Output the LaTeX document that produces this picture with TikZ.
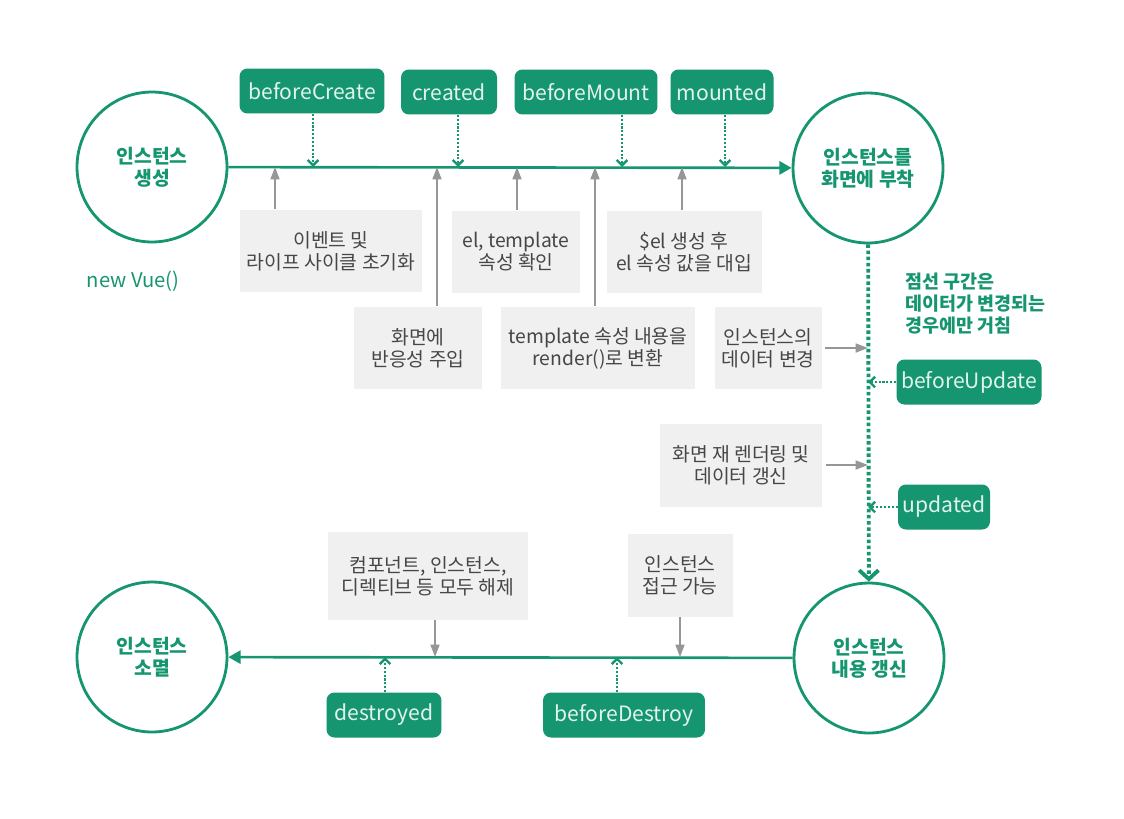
\documentclass[tikz,border=0pt]{standalone}
\usepackage{fontspec}
\setmainfont{Noto Sans CJK KR}
\usetikzlibrary{arrows.meta}

\definecolor{vuegreen}{RGB}{22,150,112}
\definecolor{hooktext}{RGB}{225,244,236}
\definecolor{boxgray}{RGB}{240,240,240}
\definecolor{boxtext}{RGB}{70,70,70}
\definecolor{linegray}{RGB}{150,150,150}

\tikzset{
  stage/.style={circle, draw=vuegreen, line width=1.6pt, fill=white, minimum size=3cm,
    text=vuegreen, align=center, font=\fontsize{11}{12.5}\selectfont\bfseries},
  hook/.style={rounded corners=4.5pt, fill=vuegreen, text=hooktext, minimum height=0.9cm,
    inner xsep=2pt, font=\fontsize{12}{14}\selectfont},
  note/.style={fill=boxgray, text=boxtext, align=center, minimum height=1.66cm,
    inner sep=2pt, font=\fontsize{11}{12.5}\selectfont},
  flow/.style={vuegreen, line width=1.5pt, -{Triangle[length=7pt,width=7.5pt]}},
  hookarrow/.style={vuegreen, line width=1.4pt, dash pattern=on 1.2pt off 1pt,
    -{Straight Barb[length=3pt,width=6pt]}},
  update/.style={vuegreen, line width=2.2pt, dash pattern=on 2pt off 1.5pt,
    -{Straight Barb[length=5pt,width=11pt]}},
  feed/.style={linegray, line width=1.2pt, -{Triangle[length=7pt,width=5pt]}},
}

\begin{document}
\begin{tikzpicture}[x=0.02cm, y=-0.02cm]
  \useasboundingbox[fill=white] (0,0) rectangle (1124,818);

  % Stages
  \node[stage] (born)    at (152,167) {인스턴스\\생성};
  \node[stage] (mount)   at (868,168) {인스턴스를\\화면에 부착};
  \node[stage] (dead)    at (152,657) {인스턴스\\소멸};
  \node[stage] (refresh) at (869,658) {인스턴스\\내용 갱신};

  % Main flow
  \draw[flow] (born) -- (mount);
  \draw[flow] (refresh) -- (dead);
  \draw[update] (mount) -- (refresh);

  \node[text=vuegreen, font=\fontsize{11.5}{13}\selectfont] (newvue) at (133,281) {new Vue()};
  \node[text=vuegreen, anchor=west, align=left, font=\fontsize{10.5}{12.5}\selectfont\bfseries]
    (dashnote) at (899,304) {점선 구간은\\데이터가 변경되는\\경우에만 거침};

  % Hooks
  \node[hook, minimum width=2.9cm]  (beforeCreate)  at (312,91)  {beforeCreate};
  \node[hook, minimum width=1.92cm] (created)       at (449,92)  {created};
  \node[hook, minimum width=2.86cm] (beforeMount)   at (586,92)  {beforeMount};
  \node[hook, minimum width=2.06cm] (mounted)       at (722,92)  {mounted};
  \node[hook, minimum width=2.9cm]  (beforeUpdate)  at (969,382) {beforeUpdate};
  \node[hook, minimum width=1.84cm] (updated)       at (944,507) {updated};
  \node[hook, minimum width=2.3cm]  (destroyed)     at (384,715) {destroyed};
  \node[hook, minimum width=3.24cm] (beforeDestroy) at (624,715) {beforeDestroy};

  \draw[hookarrow] (313,0 |- beforeCreate.south) -- (313,0 |- born.east);
  \draw[hookarrow] (458,0 |- created.south) -- (458,0 |- born.east);
  \draw[hookarrow] (622,0 |- beforeMount.south) -- (622,0 |- born.east);
  \draw[hookarrow] (725,0 |- mounted.south) -- (725,0 |- born.east);
  \draw[hookarrow] (beforeUpdate.west) -- (beforeUpdate.west -| mount.south);
  \draw[hookarrow] (updated.west) -- (updated.west -| mount.south);
  \draw[hookarrow] (385,0 |- destroyed.north) -- (385,0 |- dead.east);
  \draw[hookarrow] (617,0 |- beforeDestroy.north) -- (617,0 |- dead.east);

  % Steps
  \node[note, minimum width=3.64cm] (initEvents) at (331,251) {이벤트 및\\라이프 사이클 초기화};
  \node[note, minimum width=2.56cm] (checkEl)    at (516,252) {el, template\\속성 확인};
  \node[note, minimum width=3.1cm]  (setEl)      at (684,252) {\$el 생성 후\\el 속성 값을 대입};
  \node[note, minimum width=2.58cm] (reactive)   at (418,348) {화면에\\반응성 주입};
  \node[note, minimum width=3.9cm]  (toRender)   at (598,348) {template 속성 내용을\\render()로 변환};
  \node[note, minimum width=2.14cm] (dataChange) at (768,348) {인스턴스의\\데이터 변경};
  \node[note, minimum width=3.24cm] (reRender)   at (741,465) {화면 재 렌더링 및\\데이터 갱신};
  \node[note, minimum width=4cm, minimum height=1.76cm] (teardown) at (428,576) {컴포넌트, 인스턴스,\\디렉티브 등 모두 해제};
  \node[note, minimum width=2.1cm]  (reachable)  at (680,575) {인스턴스\\접근 가능};

  \draw[feed] (275,0 |- initEvents.north) -- (275,0 |- born.east);
  \draw[feed] (437,0 |- reactive.north) -- (437,0 |- born.east);
  \draw[feed] (517,0 |- checkEl.north) -- (517,0 |- born.east);
  \draw[feed] (595,0 |- toRender.north) -- (595,0 |- born.east);
  \draw[feed] (682,0 |- setEl.north) -- (682,0 |- born.east);
  \draw[feed] ([xshift=2pt]dataChange.east) -- (dataChange.east -| mount.south);
  \draw[feed] ([xshift=2pt]reRender.east) -- (reRender.east -| mount.south);
  \draw[feed] (435,0 |- teardown.south) -- (435,0 |- dead.east);
  \draw[feed] (680,0 |- reachable.south) -- (680,0 |- dead.east);
\end{tikzpicture}
\end{document}
